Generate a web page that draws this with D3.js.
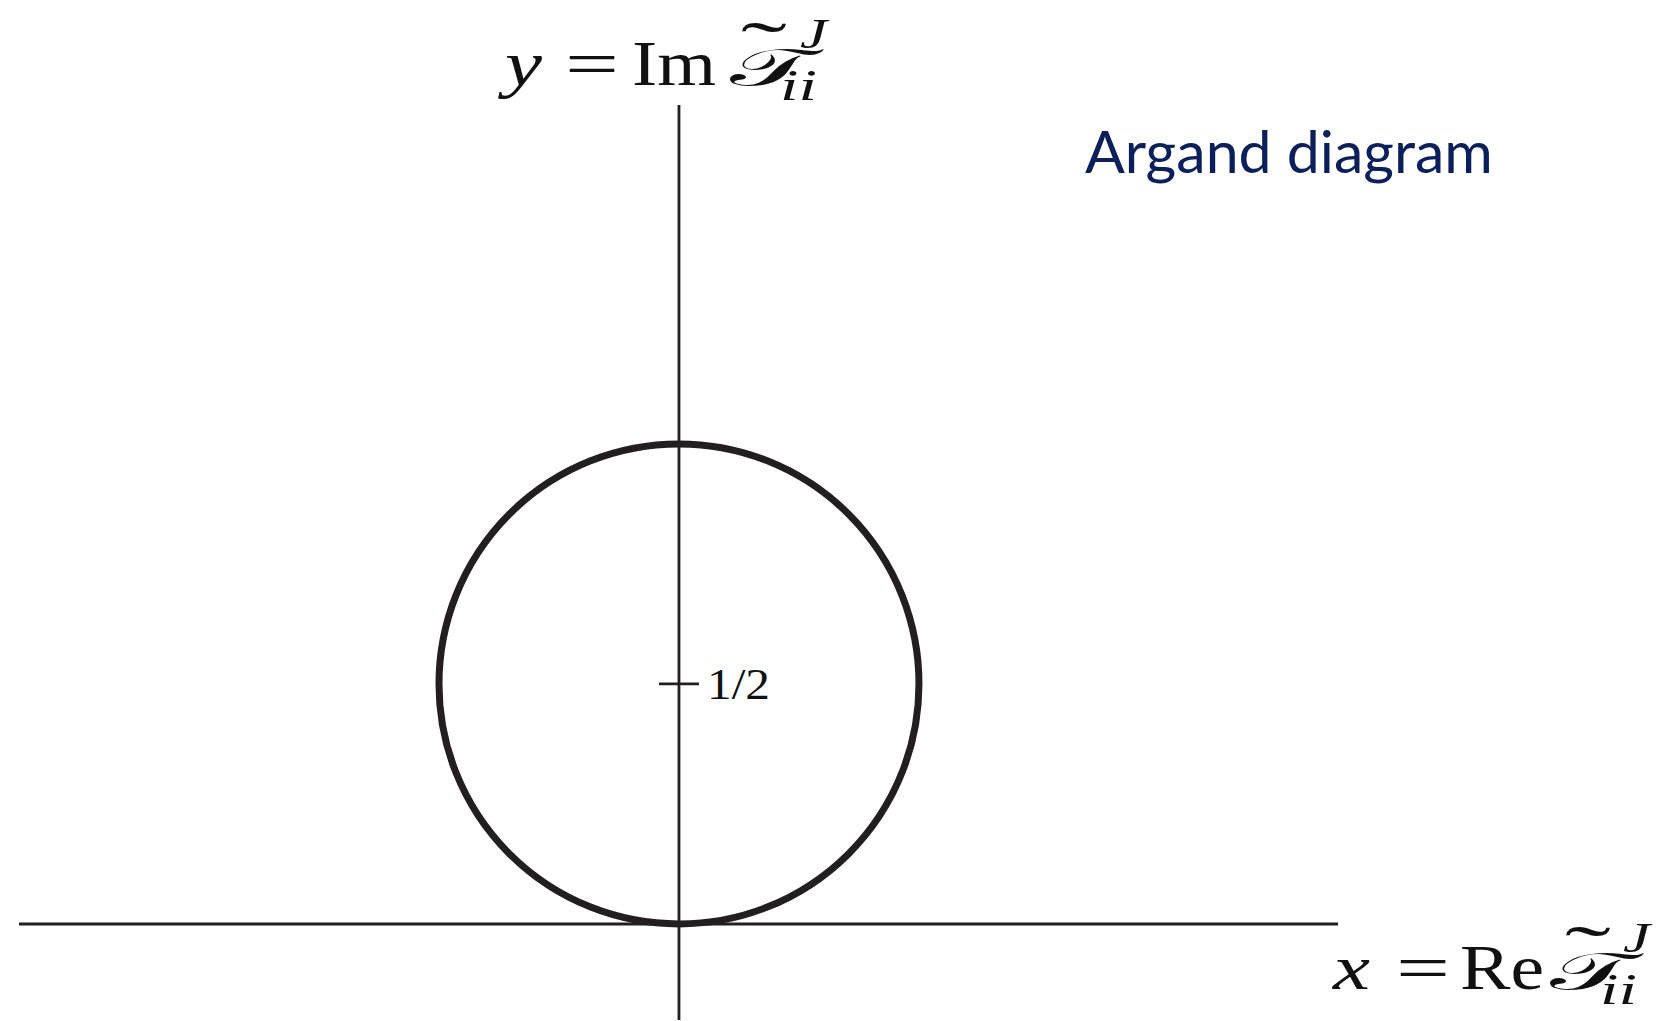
<!DOCTYPE html>
<html>
<head>
<meta charset="utf-8">
<script src="https://cdn.jsdelivr.net/npm/d3@7"></script>
<style>
  html, body { margin: 0; padding: 0; background: #fff; }
  svg { display: block; }
  .math { font-family: "Liberation Serif", "DejaVu Serif", serif; fill: #111; }
</style>
</head>
<body>
<svg id="chart" width="1659" height="1021"></svg>
<script>
// Complex plane extent (real and imaginary parts)
const xDomain = [-1.375, 1.373];
const yDomain = [-0.2, 1.706];

// Unitarity circle: centre (0, 1/2), radius 1/2
const circleCenter = [0, 0.5];
const circleRadius = [0.5];

// Marked value on the imaginary axis
const tickValues = [0.5];
const tickLabels = ["1/2"];

const title = "Argand diagram";

const svg = d3.select("#chart");
const ink = "#231f20";

const x = d3.scaleLinear().domain(xDomain).range([19, 1338]);
const y = d3.scaleLinear().domain(yDomain).range([1020, 105]);

// Axes through the origin
svg.append("line")
  .attr("x1", x(xDomain[0])).attr("x2", x(xDomain[1]))
  .attr("y1", y(0)).attr("y2", y(0))
  .attr("stroke", ink).attr("stroke-width", 2.8);

svg.append("line")
  .attr("x1", x(0)).attr("x2", x(0))
  .attr("y1", y(yDomain[0])).attr("y2", y(yDomain[1]))
  .attr("stroke", ink).attr("stroke-width", 2.8);

// Circle
svg.selectAll("circle.unit").data(circleRadius).join("circle")
  .attr("class", "unit")
  .attr("cx", x(circleCenter[0]))
  .attr("cy", y(circleCenter[1]))
  .attr("r", d => x(d) - x(0))
  .attr("fill", "none")
  .attr("stroke", ink)
  .attr("stroke-width", 7);

// Tick marks on the imaginary axis
const tick = svg.selectAll("g.tick").data(tickValues).join("g")
  .attr("class", "tick")
  .attr("transform", d => `translate(${x(0)},${y(d)})`);
tick.append("line")
  .attr("x1", -20).attr("x2", 20)
  .attr("stroke", ink).attr("stroke-width", 2.8);
tick.append("text")
  .attr("class", "math")
  .attr("x", 28).attr("y", 15)
  .attr("font-size", 44)
  .attr("textLength", 63)
  .attr("lengthAdjust", "spacingAndGlyphs")
  .text((d, i) => tickLabels[i]);

// Axis labels built from pieces: variable, "=", operator, T̃ with sub/superscripts
function piece(g, str, px, py, size, len, italic) {
  const t = g.append("text").attr("class", "math")
    .attr("x", px).attr("y", py)
    .attr("font-size", size)
    .text(str);
  if (italic) t.attr("font-style", "italic");
  if (len) t.attr("textLength", len).attr("lengthAdjust", "spacingAndGlyphs");
  return t;
}

function mathLabel(g, v, op, p) {
  const b = p.base;
  piece(g, v, p.v, b, 64, 37, true);
  piece(g, "=", p.eq, b, 64, 54, false);
  piece(g, op, p.op, b, 64, 84, false);
  piece(g, "\uD835\uDCAF", p.T, b, 52, 82, false);
  piece(g, "\u02DC", p.tilde, b - 15, 70, 46, false);
  piece(g, "ii", p.sub, b + 15, 44, 37, true);
  piece(g, "J", p.sup, b - 37, 42, 27, true);
}

mathLabel(svg.append("g"), "y", "Im",
  { base: 85, v: 505, eq: 565, op: 632, T: 730, tilde: 741, sub: 780, sup: 800 });
mathLabel(svg.append("g"), "x", "Re",
  { base: 989, v: 1333, eq: 1396, op: 1460, T: 1550, tilde: 1565, sub: 1600, sup: 1623 });

// Title
svg.append("text")
  .attr("x", 1085).attr("y", 173)
  .attr("font-family", "Lato, 'Noto Sans', sans-serif")
  .attr("font-size", 59)
  .attr("fill", "#0b1f5b")
  .text(title);
</script>
</body>
</html>
